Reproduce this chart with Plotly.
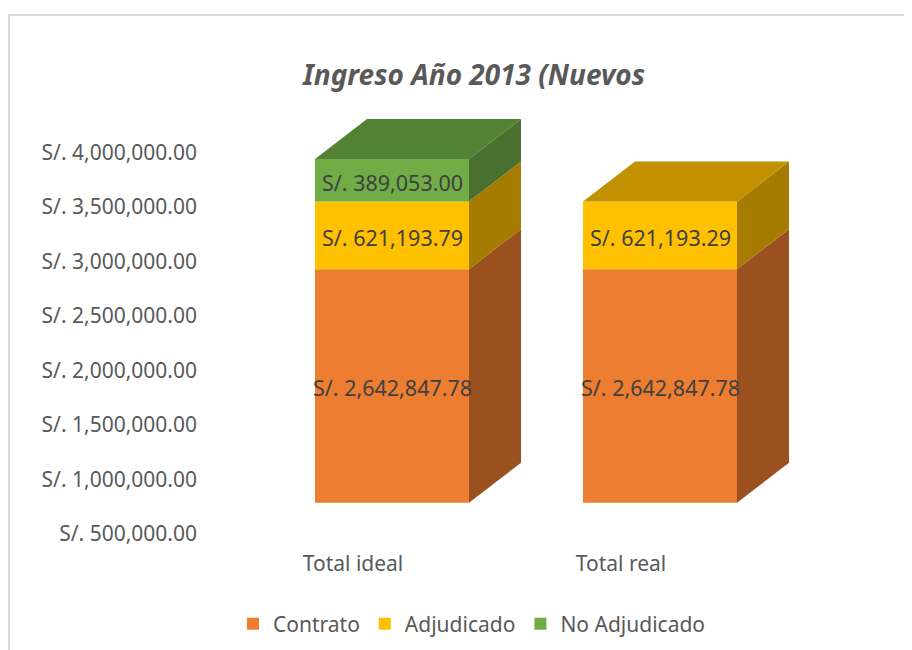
import plotly.graph_objects as go

# ---------------- data ----------------
categories = ["Total ideal", "Total real"]
series_names = ["Contrato", "Adjudicado", "No Adjudicado"]
contrato = [2642847.78, 2642847.78]
adjudicado = [621193.79, 621193.29]
no_adjudicado = [389053.00, None]
y_tick_values = [500000, 1000000, 1500000, 2000000, 2500000, 3000000, 3500000, 4000000]
axis_min = 500000
title_text = "Ingreso Año 2013 (Nuevos"

# ---------------- style ----------------
front_colors = ["#ED7D31", "#FFC000", "#70AD47"]
side_colors = ["#9A501F", "#A67C00", "#4A7030"]
top_colors = ["#B85F24", "#C29000", "#548235"]
FONT = "Noto Sans"
OFF = 8                       # page body margin
W, H = 912 - OFF, 650 - OFF
L = 200 - OFF
T = 100 - OFF
R = W - (880 - OFF)
B = H - (545 - OFF)
plot_w = W - L - R
plot_h = H - T - B
px_per_val = 109.0 / 1e6
px_per_cat = 268.0
front_bottom_px = 502.7 - OFF
cat0_px = 392.0 - OFF
bar_w = 154.0 / px_per_cat
dx = 52.0 / px_per_cat
dy = 40.0 / px_per_val

y_lo = axis_min - (T + plot_h - front_bottom_px) / px_per_val
y_hi = axis_min + (front_bottom_px - T) / px_per_val
x_lo = -(cat0_px - L) / px_per_cat
x_hi = (L + plot_w - cat0_px) / px_per_cat

series = [contrato, adjudicado, no_adjudicado]
xpos = list(range(len(categories)))

fig = go.Figure()

bases = [axis_min] * len(categories)
tops_info = [None] * len(categories)
annotations = []
for si, (name, vals) in enumerate(zip(series_names, series)):
    bx, by, bb = [], [], []
    for ci, v in enumerate(vals):
        if v is None:
            continue
        base = bases[ci]
        # first segment is drawn from the axis minimum up to its value
        seg_top = v if si == 0 else base + v
        bx.append(xpos[ci])
        bb.append(base)
        by.append(seg_top - base)
        xr = xpos[ci] + bar_w / 2
        fig.add_trace(go.Scatter(
            x=[xr, xr + dx, xr + dx, xr, xr],
            y=[base, base + dy, seg_top + dy, seg_top, base],
            mode="lines", fill="toself", fillcolor=side_colors[si],
            line=dict(width=0, color=side_colors[si]),
            showlegend=False, hoverinfo="skip"))
        tops_info[ci] = (seg_top, si)
        annotations.append(dict(
            x=xpos[ci], y=(base + seg_top) / 2, xref="x", yref="y",
            text="S/. {:,.2f}".format(v), showarrow=False,
            xanchor="center", yanchor="middle", yshift=-2,
            font=dict(family=FONT, size=21.5, color="#404040")))
        bases[ci] = seg_top
    fig.add_trace(go.Bar(
        x=bx, y=by, base=bb, width=bar_w, name=name,
        marker=dict(color=front_colors[si], line=dict(width=0)),
        hoverinfo="skip"))

for ci, info in enumerate(tops_info):
    top, si = info
    xl = xpos[ci] - bar_w / 2
    xr = xpos[ci] + bar_w / 2
    fig.add_trace(go.Scatter(
        x=[xl, xl + dx, xr + dx, xr, xl],
        y=[top, top + dy, top + dy, top, top],
        mode="lines", fill="toself", fillcolor=top_colors[si],
        line=dict(width=0, color=top_colors[si]),
        showlegend=False, hoverinfo="skip"))

y_tick_text = ["S/. {:,.2f}".format(v) for v in y_tick_values]

fig.update_layout(
    width=W, height=H,
    margin=dict(l=L, r=R, t=T, b=B, pad=0, autoexpand=False),
    paper_bgcolor="white", plot_bgcolor="rgba(0,0,0,0)",
    barmode="overlay",
    annotations=annotations,
    title=dict(text="<b><i>" + title_text + "</i></b>",
               x=(474 - OFF) / W, xanchor="center",
               y=1 - (75 - OFF) / H, yanchor="middle",
               yref="container", xref="container",
               font=dict(family=FONT, size=28, color="#595959")),
    font=dict(family=FONT, size=21, color="#595959"),
    xaxis=dict(range=[x_lo, x_hi], tickvals=xpos, ticktext=categories,
               showgrid=False, zeroline=False, showline=False, automargin=False,
               ticks="", ticklabelshift=-39, ticklabelstandoff=4,
               tickfont=dict(family=FONT, size=21, color="#595959"),
               fixedrange=True),
    yaxis=dict(range=[y_lo, y_hi], tickvals=y_tick_values, ticktext=y_tick_text,
               showgrid=False, zeroline=False, showline=False, automargin=False,
               ticks="", ticklabelshift=31, ticklabelstandoff=2,
               tickfont=dict(family=FONT, size=21, color="#595959"),
               fixedrange=True),
    legend=dict(orientation="h", xref="container", yref="container",
                x=(472 - OFF) / W, xanchor="center",
                y=1 - (624 - OFF) / H, yanchor="middle",
                font=dict(family=FONT, size=21, color="#595959"),
                itemwidth=30, traceorder="normal",
                bgcolor="rgba(0,0,0,0)"),
    shapes=[dict(type="rect", xref="paper", yref="paper",
                 x0=(9 - OFF - L) / plot_w, x1=(W + 20 - L) / plot_w,
                 y0=-(H + 20 - (T + plot_h)) / plot_h,
                 y1=(T + plot_h - (15 - OFF)) / plot_h,
                 line=dict(color="#D9D9D9", width=2), layer="below")],
)

fig.write_html("out.html")
